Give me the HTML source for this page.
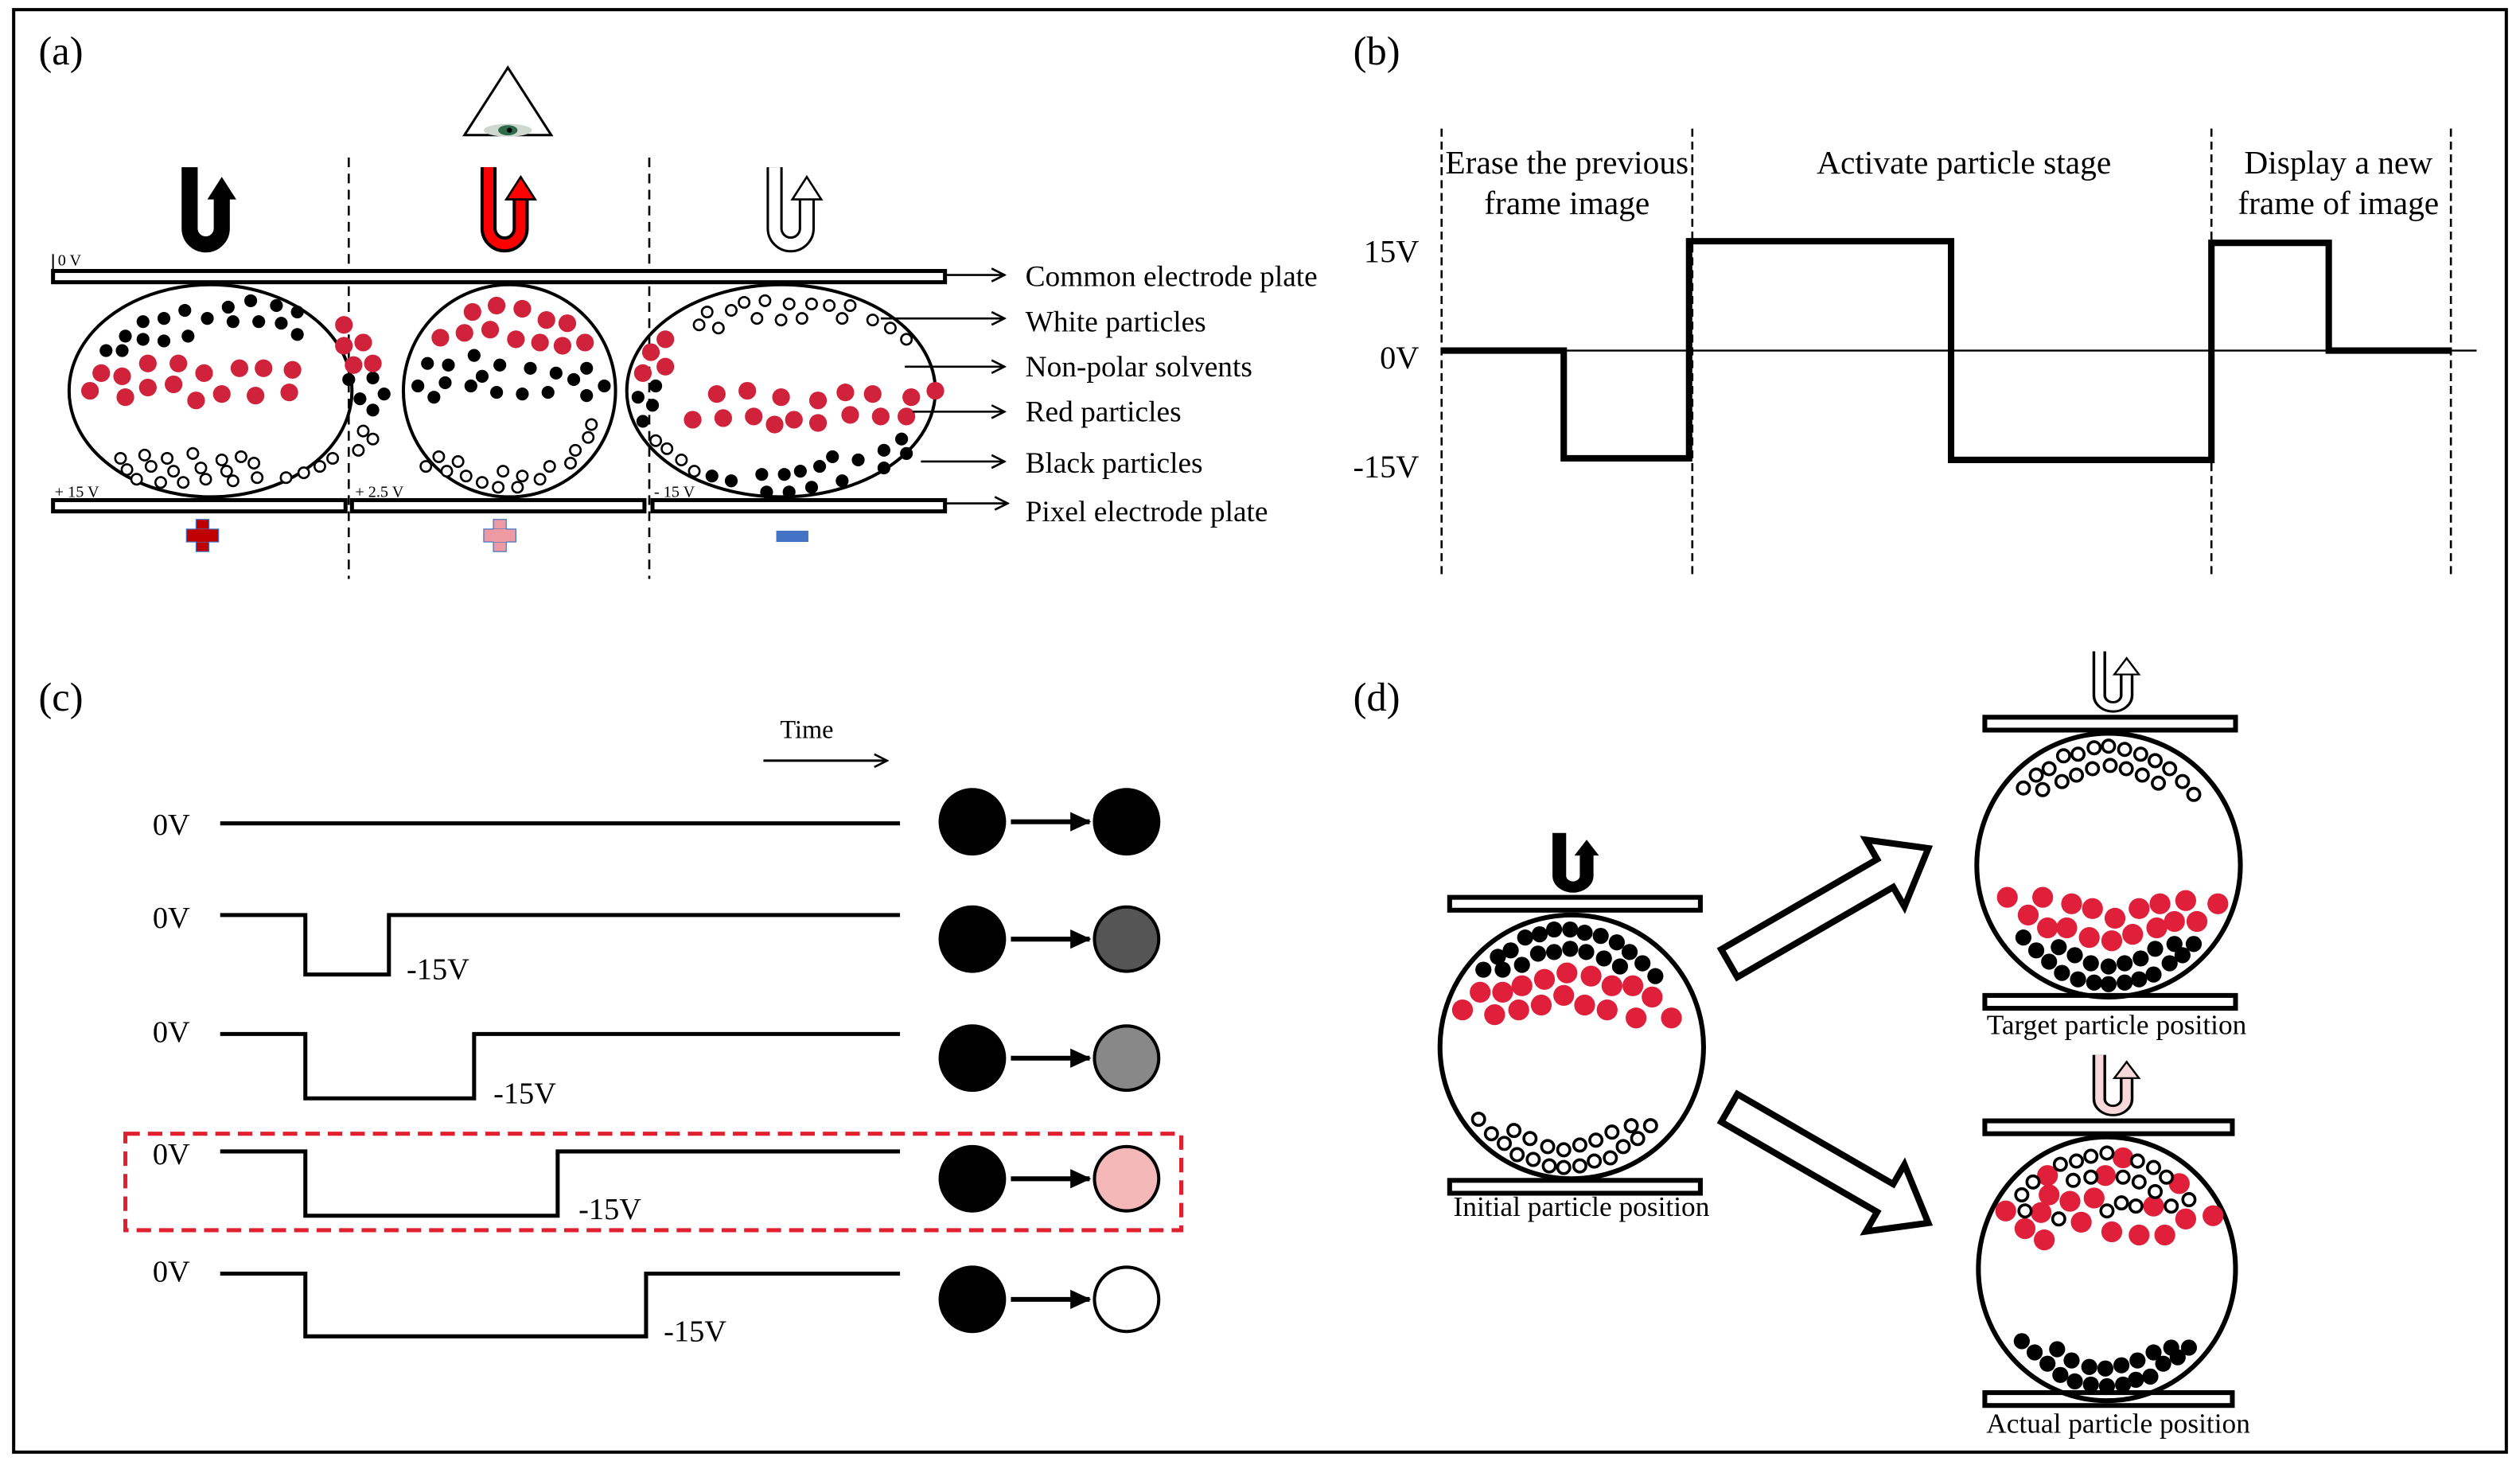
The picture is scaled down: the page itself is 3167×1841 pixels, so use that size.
<!DOCTYPE html>
<html><head><meta charset="utf-8"><style>
html,body{margin:0;padding:0;background:#fff}
svg{display:block}
text{font-family:"Liberation Serif",serif;fill:#000}
</style></head><body>
<svg width="3167" height="1841" viewBox="0 0 1568 911" preserveAspectRatio="none" xmlns="http://www.w3.org/2000/svg">
<defs>
<marker id="ah" markerWidth="10" markerHeight="10" refX="9" refY="5" orient="auto" markerUnits="userSpaceOnUse"><path d="M1,1 L9,5 L1,9" fill="none" stroke="#000" stroke-width="1.3"/></marker>
<marker id="fh" markerWidth="14" markerHeight="14" refX="12" refY="7" orient="auto" markerUnits="userSpaceOnUse"><path d="M0,1 L13,7 L0,13 Z" fill="#000"/></marker>
</defs>
<rect x="0" y="0" width="1568" height="911" fill="#fff"/>
<rect x="8.5" y="6" width="1551" height="897" fill="none" stroke="#000" stroke-width="2"/>

<!-- ===== (a) ===== -->
<text x="24" y="40" font-size="25">(a)</text>
<path d="M316,42 L289,84 L343,84 Z" fill="none" stroke="#000" stroke-width="1.5"/>
<ellipse cx="316" cy="81" rx="15" ry="4" fill="#cfd8cf"/>
<ellipse cx="316" cy="81" rx="6" ry="3.2" fill="#2d6b4a"/>
<circle cx="317" cy="81" r="1.6" fill="#000"/>
<g stroke="#000" stroke-width="1.3" stroke-dasharray="6,4"><line x1="217" y1="98" x2="217" y2="360"/><line x1="404" y1="98" x2="404" y2="360"/></g>

<!-- U arrows -->
<g transform="translate(113,104)"><path d="M5,0 L5,38 A10,10 0 0 0 25,38 L25,18" fill="none" stroke="#000" stroke-width="10"/><polygon points="16,20 34,20 25,6" fill="#000"/></g>
<g transform="translate(299,104)"><path d="M5,0 L5,38 A10,10 0 0 0 25,38 L25,18" fill="none" stroke="#000" stroke-width="10"/><path d="M5,0 L5,38 A10,10 0 0 0 25,38 L25,18" fill="none" stroke="#f00" stroke-width="6"/><polygon points="16,20 34,20 25,6" fill="#f00" stroke="#000" stroke-width="1.3"/></g>
<g transform="translate(477,104)"><path d="M5,0 L5,38 A10,10 0 0 0 25,38 L25,18" fill="none" stroke="#000" stroke-width="10"/><path d="M5,0 L5,38 A10,10 0 0 0 25,38 L25,18" fill="none" stroke="#fff" stroke-width="7"/><polygon points="16,20 34,20 25,6" fill="#fff" stroke="#000" stroke-width="1.3"/></g>

<!-- plates -->
<rect x="33" y="168.5" width="555" height="7" fill="#fff" stroke="#000" stroke-width="2.5"/>
<line x1="33" y1="158" x2="33" y2="175" stroke="#000" stroke-width="1"/>
<text x="36" y="165" font-size="10">0 V</text>
<rect x="33" y="311" width="182" height="7" fill="#fff" stroke="#000" stroke-width="2.5"/>
<rect x="219" y="311" width="182" height="7" fill="#fff" stroke="#000" stroke-width="2.5"/>
<rect x="406" y="311" width="182" height="7" fill="#fff" stroke="#000" stroke-width="2.5"/>
<text x="34" y="309" font-size="10">+ 15 V</text>
<text x="221" y="309" font-size="10">+ 2.5 V</text>
<text x="407" y="309" font-size="10">- 15 V</text>

<!-- cells -->
<g fill="none" stroke="#000" stroke-width="2">
<ellipse cx="131" cy="243" rx="88" ry="66"/>
<ellipse cx="317" cy="243" rx="66" ry="66"/>
<ellipse cx="486" cy="243" rx="96" ry="66"/>
</g>
<g fill="#000">
<circle cx="89" cy="200" r="4"/><circle cx="102" cy="198" r="4"/><circle cx="115" cy="193" r="4"/><circle cx="129" cy="198" r="4"/><circle cx="142" cy="191" r="4"/><circle cx="156" cy="187" r="4"/><circle cx="172" cy="190" r="4"/><circle cx="185" cy="194" r="4"/><circle cx="145" cy="200" r="4"/><circle cx="161" cy="200" r="4"/><circle cx="175" cy="201" r="4"/><circle cx="185" cy="208" r="4"/><circle cx="78" cy="209" r="4"/><circle cx="89" cy="211" r="4"/><circle cx="102" cy="212" r="4"/><circle cx="117" cy="209" r="4"/><circle cx="66" cy="218" r="4"/><circle cx="76" cy="218" r="4"/>
<circle cx="217" cy="236" r="4"/><circle cx="232" cy="235" r="4"/><circle cx="224" cy="248" r="4"/><circle cx="239" cy="245" r="4"/><circle cx="232" cy="255" r="4"/>
<circle cx="266" cy="226" r="4"/><circle cx="279" cy="227" r="4"/><circle cx="295" cy="221" r="4"/><circle cx="311" cy="227" r="4"/><circle cx="300" cy="234" r="4"/><circle cx="330" cy="229" r="4"/><circle cx="346" cy="232" r="4"/><circle cx="365" cy="229" r="4"/><circle cx="260" cy="240" r="4"/><circle cx="277" cy="238" r="4"/><circle cx="293" cy="240" r="4"/><circle cx="309" cy="244" r="4"/><circle cx="325" cy="245" r="4"/><circle cx="341" cy="244" r="4"/><circle cx="357" cy="236" r="4"/><circle cx="376" cy="240" r="4"/><circle cx="270" cy="247" r="4"/><circle cx="365" cy="246" r="4"/>
<circle cx="408" cy="240" r="4"/><circle cx="397" cy="247" r="4"/><circle cx="406" cy="252" r="4"/><circle cx="400" cy="262" r="4"/>
<circle cx="443" cy="296" r="4"/><circle cx="455" cy="299" r="4"/><circle cx="474" cy="295" r="4"/><circle cx="488" cy="295" r="4"/><circle cx="498" cy="293" r="4"/><circle cx="510" cy="290" r="4"/><circle cx="518" cy="284" r="4"/><circle cx="534" cy="286" r="4"/><circle cx="550" cy="280" r="4"/><circle cx="561" cy="273" r="4"/><circle cx="564" cy="282" r="4"/><circle cx="550" cy="291" r="4"/><circle cx="524" cy="299" r="4"/><circle cx="505" cy="303" r="4"/><circle cx="491" cy="306" r="4"/><circle cx="477" cy="306" r="4"/>
</g>
<g fill="#d0223a">
<circle cx="63" cy="232" r="5.5"/><circle cx="76" cy="234" r="5.5"/><circle cx="92" cy="226" r="5.5"/><circle cx="111" cy="226" r="5.5"/><circle cx="127" cy="232" r="5.5"/><circle cx="149" cy="229" r="5.5"/><circle cx="164" cy="229" r="5.5"/><circle cx="182" cy="230" r="5.5"/><circle cx="56" cy="243" r="5.5"/><circle cx="78" cy="247" r="5.5"/><circle cx="92" cy="241" r="5.5"/><circle cx="108" cy="239" r="5.5"/><circle cx="122" cy="249" r="5.5"/><circle cx="138" cy="245" r="5.5"/><circle cx="159" cy="246" r="5.5"/><circle cx="180" cy="244" r="5.5"/>
<circle cx="214" cy="202" r="5.5"/><circle cx="214" cy="215" r="5.5"/><circle cx="226" cy="213" r="5.5"/><circle cx="220" cy="227" r="5.5"/><circle cx="232" cy="226" r="5.5"/>
<circle cx="294" cy="194" r="5.5"/><circle cx="309" cy="190" r="5.5"/><circle cx="325" cy="192" r="5.5"/><circle cx="340" cy="199" r="5.5"/><circle cx="353" cy="201" r="5.5"/><circle cx="274" cy="210" r="5.5"/><circle cx="289" cy="207" r="5.5"/><circle cx="305" cy="205" r="5.5"/><circle cx="321" cy="211" r="5.5"/><circle cx="336" cy="213" r="5.5"/><circle cx="350" cy="215" r="5.5"/><circle cx="364" cy="213" r="5.5"/>
<circle cx="414" cy="211" r="5.5"/><circle cx="405" cy="219" r="5.5"/><circle cx="414" cy="228" r="5.5"/><circle cx="400" cy="232" r="5.5"/>
<circle cx="446" cy="245" r="5.5"/><circle cx="465" cy="243" r="5.5"/><circle cx="486" cy="247" r="5.5"/><circle cx="509" cy="249" r="5.5"/><circle cx="526" cy="244" r="5.5"/><circle cx="543" cy="245" r="5.5"/><circle cx="567" cy="247" r="5.5"/><circle cx="582" cy="243" r="5.5"/><circle cx="431" cy="261" r="5.5"/><circle cx="450" cy="260" r="5.5"/><circle cx="469" cy="259" r="5.5"/><circle cx="482" cy="264" r="5.5"/><circle cx="494" cy="261" r="5.5"/><circle cx="509" cy="263" r="5.5"/><circle cx="529" cy="258" r="5.5"/><circle cx="548" cy="259" r="5.5"/><circle cx="564" cy="259" r="5.5"/>
</g>
<g fill="#fff" stroke="#000" stroke-width="1.3">
<circle cx="75" cy="285" r="3.3"/><circle cx="90" cy="283" r="3.3"/><circle cx="104" cy="285" r="3.3"/><circle cx="120" cy="282" r="3.3"/><circle cx="138" cy="286" r="3.3"/><circle cx="150" cy="284" r="3.3"/><circle cx="79" cy="292" r="3.3"/><circle cx="94" cy="290" r="3.3"/><circle cx="108" cy="293" r="3.3"/><circle cx="125" cy="291" r="3.3"/><circle cx="141" cy="293" r="3.3"/><circle cx="158" cy="288" r="3.3"/><circle cx="85" cy="298" r="3.3"/><circle cx="100" cy="300" r="3.3"/><circle cx="114" cy="300" r="3.3"/><circle cx="128" cy="298" r="3.3"/><circle cx="145" cy="299" r="3.3"/><circle cx="160" cy="297" r="3.3"/><circle cx="178" cy="297" r="3.3"/><circle cx="189" cy="294" r="3.3"/><circle cx="199" cy="290" r="3.3"/><circle cx="207" cy="285" r="3.3"/>
<circle cx="226" cy="268" r="3.3"/><circle cx="232" cy="273" r="3.3"/><circle cx="223" cy="280" r="3.3"/>
<circle cx="273" cy="284" r="3.3"/><circle cx="285" cy="287" r="3.3"/><circle cx="278" cy="293" r="3.3"/><circle cx="290" cy="296" r="3.3"/><circle cx="300" cy="300" r="3.3"/><circle cx="310" cy="303" r="3.3"/><circle cx="313" cy="293" r="3.3"/><circle cx="325" cy="296" r="3.3"/><circle cx="322" cy="303" r="3.3"/><circle cx="336" cy="298" r="3.3"/><circle cx="342" cy="290" r="3.3"/><circle cx="355" cy="288" r="3.3"/><circle cx="358" cy="280" r="3.3"/><circle cx="366" cy="272" r="3.3"/><circle cx="368" cy="264" r="3.3"/><circle cx="265" cy="290" r="3.3"/>
<circle cx="440" cy="194" r="3.3"/><circle cx="455" cy="193" r="3.3"/><circle cx="463" cy="188" r="3.3"/><circle cx="476" cy="187" r="3.3"/><circle cx="491" cy="189" r="3.3"/><circle cx="505" cy="189" r="3.3"/><circle cx="516" cy="190" r="3.3"/><circle cx="529" cy="190" r="3.3"/><circle cx="435" cy="202" r="3.3"/><circle cx="447" cy="204" r="3.3"/><circle cx="471" cy="198" r="3.3"/><circle cx="486" cy="199" r="3.3"/><circle cx="499" cy="198" r="3.3"/><circle cx="524" cy="198" r="3.3"/><circle cx="543" cy="199" r="3.3"/><circle cx="554" cy="204" r="3.3"/><circle cx="564" cy="211" r="3.3"/>
<circle cx="408" cy="274" r="3.3"/><circle cx="415" cy="279" r="3.3"/><circle cx="424" cy="286" r="3.3"/><circle cx="432" cy="293" r="3.3"/>
</g>

<!-- labels a -->
<g stroke="#000" stroke-width="1.3" fill="none" marker-end="url(#ah)">
<line x1="588" y1="171" x2="625" y2="171"/>
<line x1="548" y1="198" x2="625" y2="198"/>
<line x1="563" y1="228" x2="625" y2="228"/>
<line x1="568" y1="256" x2="625" y2="256"/>
<line x1="573" y1="287" x2="625" y2="287"/>
<line x1="588" y1="313" x2="627" y2="313"/>
</g>
<g font-size="18.5">
<text x="638" y="178">Common electrode plate</text>
<text x="638" y="206">White particles</text>
<text x="638" y="234">Non-polar solvents</text>
<text x="638" y="262">Red particles</text>
<text x="638" y="294">Black particles</text>
<text x="638" y="324">Pixel electrode plate</text>
</g>
<!-- signs -->
<rect x="122" y="323" width="8" height="20" fill="#c00000" stroke="#4472c4" stroke-width="0.6"/>
<rect x="116" y="329" width="20" height="8" fill="#c00000" stroke="#4472c4" stroke-width="0.6"/>
<rect x="122" y="329" width="8" height="8" fill="#c00000"/>
<rect x="307" y="323" width="8" height="20" fill="#ee9aa2" stroke="#4472c4" stroke-width="0.6"/>
<rect x="301" y="329" width="20" height="8" fill="#ee9aa2" stroke="#4472c4" stroke-width="0.6"/>
<rect x="307" y="329" width="8" height="8" fill="#ee9aa2"/>
<rect x="483" y="330" width="20" height="7" fill="#4472c4"/>

<!-- ===== (b) ===== -->
<text x="842" y="40" font-size="25">(b)</text>
<g stroke="#000" stroke-width="1.3" stroke-dasharray="5,3"><line x1="897" y1="80" x2="897" y2="358"/><line x1="1053" y1="80" x2="1053" y2="358"/><line x1="1376" y1="80" x2="1376" y2="358"/><line x1="1525" y1="80" x2="1525" y2="358"/></g>
<line x1="897" y1="218" x2="1541" y2="218" stroke="#000" stroke-width="1.2"/>
<polyline points="897,218 973,218 973,285 1051,285 1051,150 1214,150 1214,286 1376,286 1376,151 1449,151 1449,218 1525,218" fill="none" stroke="#000" stroke-width="4"/>
<g font-size="20" text-anchor="end"><text x="883" y="163">15V</text><text x="883" y="229">0V</text><text x="883" y="297">-15V</text></g>
<g font-size="20.5" text-anchor="middle">
<text x="975" y="108">Erase the previous</text><text x="975" y="133">frame image</text>
<text x="1222" y="108">Activate particle stage</text>
<text x="1455" y="108">Display a new</text><text x="1455" y="133">frame of image</text>
</g>

<!-- ===== (c) ===== -->
<text x="24" y="442" font-size="25">(c)</text>
<text x="502" y="459" font-size="16" text-anchor="middle">Time</text>
<line x1="475" y1="473" x2="552" y2="473" stroke="#000" stroke-width="1.5" marker-end="url(#ah)"/>
<g fill="none" stroke="#000" stroke-width="2.5">
<polyline points="137,512 560,512"/>
<polyline points="137,569 190,569 190,606 242,606 242,569 560,569"/>
<polyline points="137,643 190,643 190,683 295,683 295,643 560,643"/>
<polyline points="137,716 190,716 190,756 347,756 347,716 560,716"/>
<polyline points="137,792 190,792 190,831 402,831 402,792 560,792"/>
</g>
<g font-size="19">
<text x="95" y="519">0V</text><text x="95" y="577">0V</text><text x="95" y="648">0V</text><text x="95" y="724">0V</text><text x="95" y="797">0V</text>
<text x="253" y="609">-15V</text><text x="307" y="686">-15V</text><text x="360" y="758">-15V</text><text x="413" y="834">-15V</text>
</g>
<rect x="78" y="705" width="657" height="60" fill="none" stroke="#e0202f" stroke-width="2.5" stroke-dasharray="9,5"/>
<g stroke="#000" stroke-width="2">
<circle cx="605" cy="511" r="20" fill="#000"/><circle cx="701" cy="511" r="20" fill="#000"/>
<circle cx="605" cy="584" r="20" fill="#000"/><circle cx="701" cy="584" r="20" fill="#555"/>
<circle cx="605" cy="658" r="20" fill="#000"/><circle cx="701" cy="658" r="20" fill="#888"/>
<circle cx="605" cy="733" r="20" fill="#000"/><circle cx="701" cy="733" r="20" fill="#f4b8b8"/>
<circle cx="605" cy="808" r="20" fill="#000"/><circle cx="701" cy="808" r="20" fill="#fff"/>
</g>
<g stroke="#000" stroke-width="3" marker-end="url(#fh)">
<line x1="629" y1="511" x2="678" y2="511"/><line x1="629" y1="584" x2="678" y2="584"/><line x1="629" y1="658" x2="678" y2="658"/><line x1="629" y1="733" x2="678" y2="733"/><line x1="629" y1="808" x2="678" y2="808"/>
</g>

<!-- ===== (d) ===== -->
<text x="842" y="442" font-size="25">(d)</text>
<g fill="#fff" stroke="#000" stroke-width="3">
<rect x="902" y="558" width="156" height="8"/><rect x="902" y="734" width="156" height="8"/>
<rect x="1235" y="446" width="156" height="8"/><rect x="1235" y="619" width="156" height="8"/>
<rect x="1235" y="697" width="154" height="8"/><rect x="1235" y="866" width="154" height="8"/>
</g>
<g fill="none" stroke="#000" stroke-width="3">
<circle cx="978" cy="651" r="82"/>
<ellipse cx="1312" cy="538" rx="82" ry="82"/>
<ellipse cx="1311" cy="789" rx="80" ry="82"/>
</g>
<g transform="translate(966,518) scale(0.85,0.7)"><path d="M5,0 L5,38 A10,10 0 0 0 25,38 L25,18" fill="none" stroke="#000" stroke-width="10"/><polygon points="16,20 34,20 25,6" fill="#000"/></g>
<g transform="translate(1302,405) scale(0.85,0.72)"><path d="M5,0 L5,38 A10,10 0 0 0 25,38 L25,18" fill="none" stroke="#000" stroke-width="10"/><path d="M5,0 L5,38 A10,10 0 0 0 25,38 L25,18" fill="none" stroke="#fff" stroke-width="6"/><polygon points="16,20 34,20 25,6" fill="#fff" stroke="#000" stroke-width="1.5"/></g>
<g transform="translate(1302,656) scale(0.85,0.72)"><path d="M5,0 L5,38 A10,10 0 0 0 25,38 L25,18" fill="none" stroke="#000" stroke-width="10"/><path d="M5,0 L5,38 A10,10 0 0 0 25,38 L25,18" fill="none" stroke="#f8d8d8" stroke-width="6"/><polygon points="16,20 34,20 25,6" fill="#f8d8d8" stroke="#000" stroke-width="1.5"/></g>
<g transform="translate(1076,599) rotate(-30)"><polygon points="0,-10 112,-10 112,-24 143,0 112,24 112,10 0,10" fill="#fff" stroke="#000" stroke-width="4"/></g>
<g transform="translate(1076,689) rotate(30)"><polygon points="0,-10 112,-10 112,-24 143,0 112,24 112,10 0,10" fill="#fff" stroke="#000" stroke-width="4"/></g>

<g fill="#000">
<circle cx="949" cy="583" r="5"/><circle cx="958" cy="581" r="5"/><circle cx="967" cy="578" r="5"/><circle cx="977" cy="578" r="5"/><circle cx="986" cy="580" r="5"/><circle cx="996" cy="582" r="5"/><circle cx="1006" cy="586" r="5"/><circle cx="1014" cy="592" r="5"/><circle cx="1022" cy="599" r="5"/><circle cx="1030" cy="607" r="5"/><circle cx="923" cy="603" r="5"/><circle cx="932" cy="595" r="5"/><circle cx="940" cy="591" r="5"/><circle cx="935" cy="603" r="5"/><circle cx="947" cy="600" r="5"/><circle cx="957" cy="593" r="5"/><circle cx="967" cy="592" r="5"/><circle cx="977" cy="590" r="5"/><circle cx="987" cy="592" r="5"/><circle cx="998" cy="596" r="5"/><circle cx="1008" cy="601" r="5"/>
<circle cx="1259" cy="583" r="5"/><circle cx="1267" cy="591" r="5"/><circle cx="1281" cy="589" r="5"/><circle cx="1291" cy="594" r="5"/><circle cx="1301" cy="599" r="5"/><circle cx="1312" cy="601" r="5"/><circle cx="1322" cy="599" r="5"/><circle cx="1332" cy="596" r="5"/><circle cx="1341" cy="590" r="5"/><circle cx="1353" cy="587" r="5"/><circle cx="1365" cy="587" r="5"/><circle cx="1275" cy="598" r="5"/><circle cx="1283" cy="605" r="5"/><circle cx="1293" cy="609" r="5"/><circle cx="1303" cy="611" r="5"/><circle cx="1312" cy="612" r="5"/><circle cx="1322" cy="611" r="5"/><circle cx="1331" cy="609" r="5"/><circle cx="1340" cy="606" r="5"/><circle cx="1350" cy="599" r="5"/><circle cx="1358" cy="594" r="5"/>
<circle cx="1258" cy="834" r="5"/><circle cx="1266" cy="841" r="5"/><circle cx="1280" cy="839" r="5"/><circle cx="1289" cy="846" r="5"/><circle cx="1300" cy="850" r="5"/><circle cx="1310" cy="851" r="5"/><circle cx="1320" cy="849" r="5"/><circle cx="1330" cy="846" r="5"/><circle cx="1340" cy="841" r="5"/><circle cx="1351" cy="838" r="5"/><circle cx="1362" cy="838" r="5"/><circle cx="1274" cy="848" r="5"/><circle cx="1282" cy="855" r="5"/><circle cx="1291" cy="859" r="5"/><circle cx="1301" cy="861" r="5"/><circle cx="1311" cy="862" r="5"/><circle cx="1321" cy="861" r="5"/><circle cx="1329" cy="858" r="5"/><circle cx="1338" cy="856" r="5"/><circle cx="1346" cy="848" r="5"/><circle cx="1355" cy="844" r="5"/>
</g>
<g fill="#e0203a">
<circle cx="921" cy="617" r="6.5"/><circle cx="935" cy="617" r="6.5"/><circle cx="947" cy="613" r="6.5"/><circle cx="961" cy="609" r="6.5"/><circle cx="975" cy="605" r="6.5"/><circle cx="990" cy="607" r="6.5"/><circle cx="1003" cy="613" r="6.5"/><circle cx="1016" cy="613" r="6.5"/><circle cx="1028" cy="620" r="6.5"/><circle cx="910" cy="628" r="6.5"/><circle cx="930" cy="631" r="6.5"/><circle cx="945" cy="628" r="6.5"/><circle cx="959" cy="625" r="6.5"/><circle cx="973" cy="619" r="6.5"/><circle cx="986" cy="625" r="6.5"/><circle cx="1000" cy="628" r="6.5"/><circle cx="1018" cy="633" r="6.5"/><circle cx="1040" cy="633" r="6.5"/>
<circle cx="1249" cy="558" r="6.5"/><circle cx="1271" cy="558" r="6.5"/><circle cx="1289" cy="562" r="6.5"/><circle cx="1302" cy="565" r="6.5"/><circle cx="1316" cy="571" r="6.5"/><circle cx="1331" cy="565" r="6.5"/><circle cx="1344" cy="562" r="6.5"/><circle cx="1360" cy="560" r="6.5"/><circle cx="1380" cy="562" r="6.5"/><circle cx="1262" cy="569" r="6.5"/><circle cx="1274" cy="577" r="6.5"/><circle cx="1286" cy="577" r="6.5"/><circle cx="1300" cy="583" r="6.5"/><circle cx="1314" cy="585" r="6.5"/><circle cx="1327" cy="581" r="6.5"/><circle cx="1342" cy="577" r="6.5"/><circle cx="1353" cy="573" r="6.5"/><circle cx="1367" cy="573" r="6.5"/>
<circle cx="1321" cy="720" r="6.5"/><circle cx="1274" cy="731" r="6.5"/><circle cx="1310" cy="731" r="6.5"/><circle cx="1356" cy="736" r="6.5"/><circle cx="1275" cy="743" r="6.5"/><circle cx="1303" cy="745" r="6.5"/><circle cx="1288" cy="747" r="6.5"/><circle cx="1340" cy="750" r="6.5"/><circle cx="1248" cy="753" r="6.5"/><circle cx="1270" cy="754" r="6.5"/><circle cx="1295" cy="760" r="6.5"/><circle cx="1360" cy="758" r="6.5"/><circle cx="1377" cy="756" r="6.5"/><circle cx="1260" cy="764" r="6.5"/><circle cx="1314" cy="766" r="6.5"/><circle cx="1331" cy="768" r="6.5"/><circle cx="1347" cy="768" r="6.5"/><circle cx="1272" cy="771" r="6.5"/>
</g>
<g fill="#fff" stroke="#000" stroke-width="1.8">
<circle cx="920" cy="696" r="3.8"/><circle cx="928" cy="705" r="3.8"/><circle cx="936" cy="711" r="3.8"/><circle cx="942" cy="703" r="3.8"/><circle cx="952" cy="708" r="3.8"/><circle cx="963" cy="713" r="3.8"/><circle cx="973" cy="715" r="3.8"/><circle cx="983" cy="712" r="3.8"/><circle cx="993" cy="709" r="3.8"/><circle cx="1003" cy="704" r="3.8"/><circle cx="1015" cy="700" r="3.8"/><circle cx="1027" cy="700" r="3.8"/><circle cx="944" cy="718" r="3.8"/><circle cx="954" cy="721" r="3.8"/><circle cx="964" cy="725" r="3.8"/><circle cx="973" cy="726" r="3.8"/><circle cx="983" cy="725" r="3.8"/><circle cx="992" cy="722" r="3.8"/><circle cx="1002" cy="720" r="3.8"/><circle cx="1010" cy="713" r="3.8"/><circle cx="1019" cy="708" r="3.8"/>
<circle cx="1284" cy="470" r="3.8"/><circle cx="1293" cy="469" r="3.8"/><circle cx="1303" cy="465" r="3.8"/><circle cx="1312" cy="464" r="3.8"/><circle cx="1322" cy="466" r="3.8"/><circle cx="1332" cy="469" r="3.8"/><circle cx="1341" cy="473" r="3.8"/><circle cx="1350" cy="478" r="3.8"/><circle cx="1358" cy="486" r="3.8"/><circle cx="1365" cy="494" r="3.8"/><circle cx="1259" cy="490" r="3.8"/><circle cx="1267" cy="482" r="3.8"/><circle cx="1275" cy="478" r="3.8"/><circle cx="1271" cy="491" r="3.8"/><circle cx="1283" cy="486" r="3.8"/><circle cx="1292" cy="482" r="3.8"/><circle cx="1302" cy="478" r="3.8"/><circle cx="1313" cy="476" r="3.8"/><circle cx="1323" cy="478" r="3.8"/><circle cx="1333" cy="482" r="3.8"/><circle cx="1343" cy="487" r="3.8"/>
<circle cx="1282" cy="724" r="3.8"/><circle cx="1292" cy="722" r="3.8"/><circle cx="1301" cy="719" r="3.8"/><circle cx="1311" cy="717" r="3.8"/><circle cx="1330" cy="722" r="3.8"/><circle cx="1340" cy="726" r="3.8"/><circle cx="1348" cy="732" r="3.8"/><circle cx="1265" cy="735" r="3.8"/><circle cx="1290" cy="734" r="3.8"/><circle cx="1301" cy="732" r="3.8"/><circle cx="1321" cy="732" r="3.8"/><circle cx="1331" cy="735" r="3.8"/><circle cx="1341" cy="741" r="3.8"/><circle cx="1258" cy="743" r="3.8"/><circle cx="1260" cy="753" r="3.8"/><circle cx="1281" cy="758" r="3.8"/><circle cx="1311" cy="753" r="3.8"/><circle cx="1320" cy="748" r="3.8"/><circle cx="1329" cy="750" r="3.8"/><circle cx="1351" cy="750" r="3.8"/><circle cx="1362" cy="746" r="3.8"/>
</g>
<g font-size="17.5" text-anchor="middle">
<text x="984" y="756">Initial particle position</text>
<text x="1317" y="643">Target particle position</text>
<text x="1318" y="891">Actual particle position</text>
</g>
</svg>
</body></html>
